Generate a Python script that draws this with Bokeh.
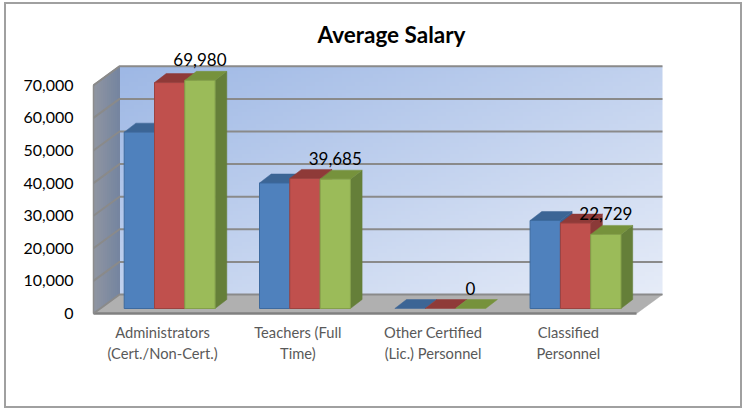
import numpy as np
from bokeh.plotting import figure
from bokeh.models import LinearAxis, FixedTicker, NumeralTickFormatter
from bokeh.core.properties import value
from bokeh.embed import file_html
from bokeh.resources import INLINE

# ---- data
categories = ["Administrators\n(Cert./Non-Cert.)", "Teachers (Full\nTime)",
              "Other Certified\n(Lic.) Personnel", "Classified\nPersonnel"]
series_blue = [54100, 38500, 0, 27000]
series_red = [69300, 39900, 0, 26200]
series_green = [69980, 39685, 0, 22729]
green_labels = ["69,980", "39,685", "0", "22,729"]
y_ticks = [0, 10000, 20000, 30000, 40000, 50000, 60000, 70000]

# ---- layout, in page pixels
FIG_L, FIG_T, FIG_R, FIG_B = 6, 4, 740, 406
FR_L, FR_T, FR_R, FR_B = 84, 48, 698, 315
X0, PX_PER_CAT = 162.0, 135.3          # first category tick, category pitch
Y0, PX_PER_VAL = 313.0, 32.6 / 10000   # front zero line, value scale


def dx(px):
    return px / PX_PER_CAT


def dy(px):
    return px / PX_PER_VAL


p = figure(width=FIG_R - FIG_L, height=FIG_B - FIG_T, output_backend="svg", toolbar_location=None,
           x_range=((FR_L - X0) / PX_PER_CAT, (FR_R - X0) / PX_PER_CAT),
           y_range=(-(FR_B - Y0) / PX_PER_VAL, (Y0 - FR_T) / PX_PER_VAL),
           x_axis_location=None, y_axis_location=None,
           min_border_left=FR_L - FIG_L, min_border_right=FIG_R - FR_R,
           min_border_top=FR_T - FIG_T, min_border_bottom=FIG_B - FR_B,
           title="Average Salary")
p.margin = (FIG_T, 0, 0, FIG_L)
p.styles = {"outline": "2px solid #a0a0a0"}
p.grid.visible = False
p.outline_line_color = None
p.background_fill_color = None
p.title.align = "center"
p.title.text_font = "Lato"
p.title.text_font_size = "22.5px"
p.title.text_font_style = "bold"
p.title.text_color = "#000000"
p.title.standoff = 2

# scene geometry, in data units
wall_l = dx(93 - X0)
wall_r = dx(636 - X0)
deep_x, deep_y = dx(26), dy(19)
top_v = y_ticks[-1]
grid_c = "#8a8a8a"


def lerp(a, b, t):
    return np.array(a, float) + (np.array(b, float) - np.array(a, float)) * t


def hexc(c):
    return "#%02x%02x%02x" % tuple(int(round(v)) for v in c)


# back wall: diagonal gradient (image row 0 is the bottom)
H, W = 60, 120
v, u = np.mgrid[0:H, 0:W]
tt = (u / (W - 1) + (1 - v / (H - 1))) / 2
c0, c1 = np.array([0x9e, 0xb8, 0xe5], float), np.array([0xe6, 0xec, 0xf8], float)
rgb = c0 + (c1 - c0) * tt[..., None]
img = np.zeros((H, W), dtype=np.uint32)
view = img.view(dtype=np.uint8).reshape((H, W, 4))
view[..., :3] = rgb.astype(np.uint8)
view[..., 3] = 255
p.image_rgba(image=[img], x=wall_l + deep_x, y=deep_y, dw=wall_r - wall_l, dh=top_v, level="image")

# left wall: vertical strips for its gradient
nx = 13
xs, ys, cols = [], [], []
for i in range(nx):
    a, b = i / nx, (i + 1) / nx
    xs.append([wall_l + a * deep_x, wall_l + b * deep_x, wall_l + b * deep_x, wall_l + a * deep_x])
    ys.append([a * deep_y, b * deep_y, top_v + b * deep_y, top_v + a * deep_y])
    cols.append(hexc(lerp([0x8f, 0x95, 0xa1], [0x74, 0x84, 0xa0], a)))
p.patches(xs, ys, fill_color=cols, line_color=cols, line_width=1)

# floor
p.patch([wall_l, wall_r, wall_r + deep_x, wall_l + deep_x], [0, 0, deep_y, deep_y],
        fill_color="#b0b0b0", line_color="#a8a8a8", line_width=0.5)
p.line([wall_l, wall_r], [0, 0], line_color="#808080", line_width=2.5)
p.line([wall_l, wall_l], [0, top_v], line_color="#8c8c8c", line_width=1.5)
p.line([wall_l, wall_l + deep_x], [top_v, top_v + deep_y], line_color="#8c8c8c", line_width=1.5)

# gridlines over both walls
for t in y_ticks:
    if t:
        p.line([wall_l, wall_l + deep_x, wall_r + deep_x],
               [t, t + deep_y, t + deep_y], line_color=grid_c, line_width=2)
p.line([wall_l, wall_l + deep_x, wall_r + deep_x], [0, deep_y, deep_y], line_color=grid_c, line_width=2)

# bars
bar_w = dx(30.3)
off0 = dx(123.7 - X0)
base = dy(Y0 - 308)
bd_x, bd_y = dx(11.7), dy(9)
styles = [(series_blue, "#4f81bd", "#3c6595", "#3a6090", "#3d6a9f"),
          (series_red, "#c0504d", "#8f3a38", "#8b3a38", "#9b4340"),
          (series_green, "#9bbb59", "#76923c", "#657f39", "#84a04a")]

for g in range(len(categories)):
    for k, (vals, front, top, side, edge) in enumerate(styles):
        x1 = g + off0 + k * bar_w
        x2 = x1 + bar_w
        v1 = base
        v2 = base + vals[g]
        if vals[g] > 0:
            p.patch([x2, x2 + bd_x, x2 + bd_x, x2], [v1, v1 + bd_y, v2 + bd_y, v2],
                    fill_color=side, line_color=side, line_width=0.5)
        p.patch([x1, x1 + bd_x, x2 + bd_x, x2], [v2, v2 + bd_y, v2 + bd_y, v2],
                fill_color=top, line_color=top, line_width=0.5)
        if vals[g] > 0:
            p.patch([x1, x2, x2, x1], [v1, v1, v2, v2],
                    fill_color=front, line_color=edge, line_width=1)

# data labels of the green series
lab_x = [g + off0 + 2.5 * bar_w for g in range(len(categories))]
lab_y = [base + val for val in series_green]
p.text(lab_x, lab_y, text=green_labels, text_font=value("Lato"), text_font_size="17px",
       text_align="center", text_baseline="middle", y_offset=-20.5, text_color="#000000")

# axes
ya = LinearAxis(ticker=FixedTicker(ticks=y_ticks), formatter=NumeralTickFormatter(format="0,0"))
ya.axis_line_color = None
ya.major_tick_line_color = None
ya.minor_tick_line_color = None
ya.major_label_text_font = "Lato"
ya.major_label_text_font_size = "16px"
ya.major_label_text_color = "#000000"
ya.major_label_standoff = 5
p.add_layout(ya, "left")

xa = LinearAxis(ticker=FixedTicker(ticks=list(range(len(categories)))))
xa.major_label_overrides = {i: c for i, c in enumerate(categories)}
xa.axis_line_color = None
xa.major_tick_line_color = None
xa.minor_tick_line_color = None
xa.major_label_text_font = "Lato"
xa.major_label_text_font_size = "14.7px"
xa.major_label_text_color = "#595959"
xa.major_label_standoff = 1
p.add_layout(xa, "below")

open("out.html", "w").write(file_html(p, INLINE))
